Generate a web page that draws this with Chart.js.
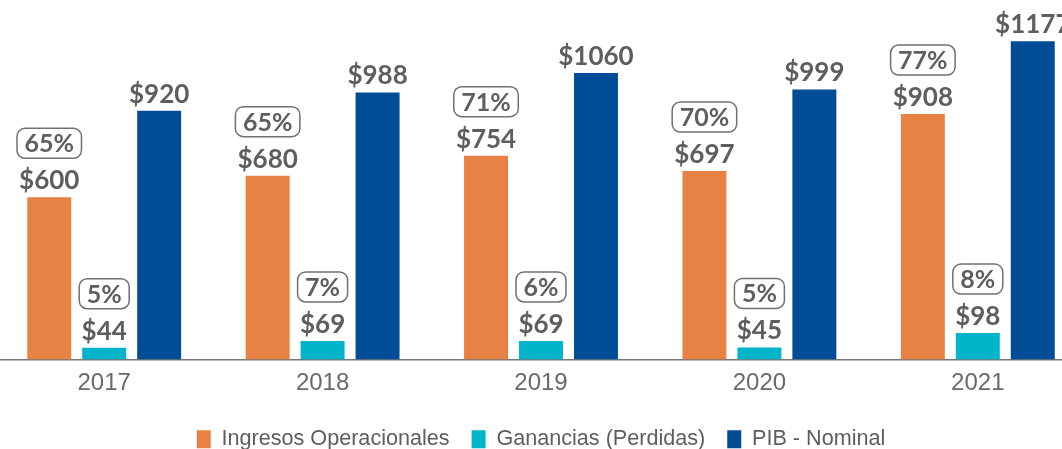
<!DOCTYPE html>
<html>
<head>
<meta charset="utf-8">
<script src="https://cdn.jsdelivr.net/npm/chart.js@4.4.1/dist/chart.umd.min.js"></script>
<style>
    html, body { margin: 0; padding: 0; background: #fff; overflow: hidden; }
    /* canvas is a bit larger than the window: the source picture is cropped at its edges */
    #wrap { position: absolute; left: -5px; top: 0; width: 1092px; height: 462px; }
</style>
</head>
<body>
<div id="wrap"><canvas id="ingresosChart"></canvas></div>
<script>
// data
const years = ['2017', '2018', '2019', '2020', '2021'];
const ingresos = [600, 680, 754, 697, 908];
const ganancias = [44, 69, 69, 45, 98];
const pib = [920, 988, 1060, 999, 1177];
const ingresosPct = [65, 65, 71, 70, 77];
const gananciasPct = [5, 7, 6, 5, 8];

const textColor = '#5e5e5e';

// $ values above every bar, plus the rounded % box where the series has one
const barLabels = {
    id: 'barLabels',
    afterDatasetsDraw(chart) {
        const ctx = chart.ctx;
        ctx.save();
        chart.data.datasets.forEach((ds, di) => {
            const meta = chart.getDatasetMeta(di);
            meta.data.forEach((bar, i) => {
                ctx.fillStyle = textColor;
                ctx.font = 'bold 26px Lato';
                ctx.textAlign = 'center';
                ctx.textBaseline = 'alphabetic';
                ctx.fillText('$' + ds.data[i], bar.x, bar.y - 8);

                if (!ds.pct) return;
                const label = ds.pct[i] + '%';
                ctx.font = 'bold 25px Lato';
                const w = ctx.measureText(label).width + 15;
                const h = 30;
                const bottom = bar.y - 39;
                ctx.beginPath();
                ctx.roundRect(bar.x - w / 2, bottom - h, w, h, 8);
                ctx.lineWidth = 1.5;
                ctx.strokeStyle = '#707070';
                ctx.stroke();
                ctx.textBaseline = 'middle';
                ctx.fillText(label, bar.x, bottom - h / 2 + 1);
            });
        });
        ctx.restore();
    }
};

new Chart(document.getElementById('ingresosChart'), {
    type: 'bar',
    data: {
        labels: years,
        datasets: [
            { label: 'Ingresos Operacionales', data: ingresos, pct: ingresosPct, backgroundColor: '#e88244' },
            { label: 'Ganancias (Perdidas)', data: ganancias, pct: gananciasPct, backgroundColor: '#00b5c9' },
            { label: 'PIB - Nominal', data: pib, backgroundColor: '#004c97' }
        ]
    },
    options: {
        responsive: true,
        maintainAspectRatio: false,
        animation: false,
        categoryPercentage: 0.755,
        barPercentage: 0.8,
        layout: { padding: { top: 8, bottom: 2 } },
        plugins: {
            tooltip: { enabled: false },
            legend: {
                position: 'bottom',
                labels: {
                    boxWidth: 14,
                    boxHeight: 18,
                    padding: 22,
                    color: textColor,
                    font: { family: 'Liberation Sans', size: 21.6 }
                }
            }
        },
        scales: {
            x: {
                grid: { display: false, drawTicks: false },
                border: { display: true, color: '#777', width: 1.5 },
                ticks: { color: '#6a6a6a', padding: 9, font: { family: 'Liberation Sans', size: 24 } }
            },
            y: { display: false, min: 0, max: 1300 }
        }
    },
    plugins: [barLabels]
});
</script>
</body>
</html>
